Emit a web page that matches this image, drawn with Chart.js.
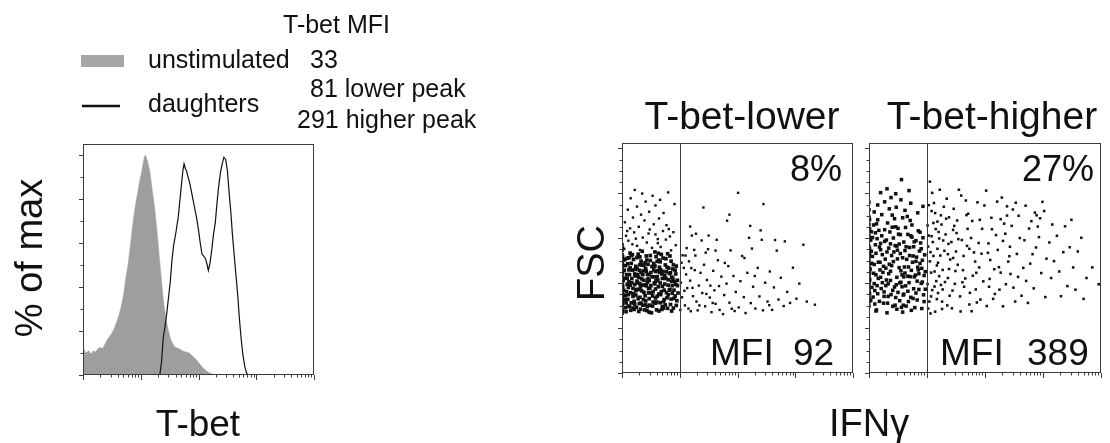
<!DOCTYPE html>
<html>
<head>
<meta charset="utf-8">
<script src="https://cdn.jsdelivr.net/npm/chart.js@4.4.1/dist/chart.umd.min.js"></script>
<style>
  html, body { margin: 0; padding: 0; background: #fff; }
  #page { position: relative; width: 1110px; height: 443px; overflow: hidden; }
  .box { position: absolute; }
  #labels { position: absolute; left: 0; top: 0; pointer-events: none; }
  #labels text { font-family: "Liberation Sans", Arial, Helvetica, sans-serif; fill: #111; }
</style>
</head>
<body>
<div id="page">
  <div class="box" style="left:63px;top:134px;width:271px;height:251px"><canvas id="histChart"></canvas></div>
  <div class="box" style="left:602px;top:133px;width:271px;height:250px"><canvas id="lowerChart"></canvas></div>
  <div class="box" style="left:849px;top:133px;width:272px;height:250px"><canvas id="higherChart"></canvas></div>
  <svg id="labels" width="1110" height="443">
    <rect x="81" y="55" width="43" height="12" fill="#a6a6a6"/>
    <line x1="82" y1="106" x2="120" y2="106" stroke="#111" stroke-width="2.5"/>
    <text x="283" y="33" font-size="25">T-bet MFI</text>
    <text x="148" y="68" font-size="25">unstimulated</text>
    <text x="310" y="68" font-size="25">33</text>
    <text x="310" y="97" font-size="25">81 lower peak</text>
    <text x="148" y="112" font-size="25">daughters</text>
    <text x="297" y="128" font-size="25">291 higher peak</text>
    <text transform="translate(42,258) rotate(-90)" text-anchor="middle" font-size="38">% of max</text>
    <text x="198" y="436" text-anchor="middle" font-size="37">T-bet</text>
    <text x="742" y="129" text-anchor="middle" font-size="39">T-bet-lower</text>
    <text x="992" y="129" text-anchor="middle" font-size="39">T-bet-higher</text>
    <text x="842" y="181" text-anchor="end" font-size="36">8%</text>
    <text x="1094" y="181" text-anchor="end" font-size="36">27%</text>
    <text y="365" font-size="37"><tspan x="710">MFI</tspan><tspan x="793">92</tspan></text>
    <text y="365" font-size="37"><tspan x="940">MFI</tspan><tspan x="1027">389</tspan></text>
    <text transform="translate(604,263) rotate(-90)" text-anchor="middle" font-size="38">FSC</text>
    <text x="829" y="436" font-size="38">IFNγ</text>
  </svg>
</div>
<script>
// --- Histogram: T-bet (log decades) vs % of max ---
const unstimLog = [0, 0.01, 0.05, 0.1, 0.14, 0.18, 0.22, 0.26, 0.3, 0.34,
  0.38, 0.42, 0.46, 0.5, 0.54, 0.58, 0.62, 0.66, 0.7, 0.74,
  0.78, 0.82, 0.86, 0.9, 0.94, 0.98, 1.02, 1.06, 1.08, 1.12,
  1.16, 1.2, 1.24, 1.28, 1.32, 1.36, 1.4, 1.44, 1.48, 1.52,
  1.56, 1.6, 1.66, 1.72, 1.78, 1.84, 1.9, 1.96, 2.02, 2.08,
  2.14, 2.2, 2.28, 2.34, 4];
const unstimPct = [42, 12, 10, 11, 9.5, 11, 10.5, 12, 12.5, 12,
  14, 16, 17.5, 19, 21, 24, 27, 31, 36, 44,
  50, 59, 68, 76, 82, 88, 93, 99, 100, 97,
  92, 84, 76, 66, 54, 43, 32, 25, 20, 16,
  14, 12.5, 12, 11, 10.5, 10, 8.5, 7, 5, 3.2,
  1.8, 0.8, 0.2, 0, 0];
const daughtersLog = [0, 1.33, 1.36, 1.39, 1.42, 1.45, 1.48, 1.51, 1.54, 1.57,
  1.61, 1.65, 1.68, 1.71, 1.73, 1.75, 1.77, 1.79,
  1.82, 1.85, 1.88, 1.91, 1.94, 1.97, 2.0, 2.03, 2.06, 2.09, 2.12, 2.15,
  2.17,
  2.2, 2.23, 2.26, 2.29, 2.32, 2.35, 2.38, 2.41, 2.44, 2.47, 2.5, 2.53,
  2.56, 2.59, 2.62, 2.65, 2.68, 2.71, 2.74, 2.77, 2.8, 2.83, 2.86,
  4];
const daughtersPct = [0, 0, 6, 17, 22, 28, 35, 42, 52, 59,
  65, 72, 80, 88, 93, 96, 94, 93,
  90, 87, 83, 79, 75, 71, 66, 60, 55, 54, 53, 50,
  47.5,
  51, 57, 64, 69, 78, 86, 92, 96, 99, 98, 93, 83,
  74, 63, 54, 45, 36, 25, 16, 9, 4, 1, 0,
  0];

// --- Dot plots: IFNg (log decades) vs FSC, flat [x, y, x, y, ...] ---
const lowerDense = [
  0.42,388, 0.13,296, 0.77,451, 0.31,517, 0.58,334, 0.05,422, 0.89,289, 0.24,367, 0.66,495, 0.47,271,
  0.18,458, 0.83,372, 0.36,302, 0.61,429, 0.09,511, 0.72,318, 0.27,401, 0.94,476, 0.51,356, 0.14,534,
  0.69,283, 0.33,447, 0.86,408, 0.02,347, 0.55,488, 0.21,319, 0.79,531, 0.44,439, 0.11,381, 0.64,276,
  0.38,359, 0.92,343, 0.16,488, 0.74,396, 0.49,523, 0.06,291, 0.59,411, 0.29,274, 0.81,467, 0.41,321,
  0.23,432, 0.67,349, 0.03,503, 0.53,298, 0.88,422, 0.35,481, 0.12,407, 0.71,452, 0.46,376, 0.19,341,
  0.84,305, 0.57,539, 0.26,466, 0.96,389, 0.39,281, 0.08,362, 0.63,384, 0.31,337, 0.76,509, 0.5,447,
  0.15,279, 0.7,421, 0.43,503, 0.87,355, 0.22,394, 0.6,316, 0.04,457, 0.34,419, 0.79,288, 0.54,362,
  0.28,529, 0.93,441, 0.1,328, 0.65,471, 0.48,302, 0.2,506, 0.73,369, 0.37,455, 0.85,498, 0.56,401,
  0.01,389, 0.4,344, 0.68,528, 0.25,292, 0.9,369, 0.17,421, 0.62,455, 0.32,383, 0.78,335, 0.45,484,
  0.07,273, 0.52,428, 0.82,443, 0.3,309, 0.66,313, 0.14,468, 0.95,322, 0.42,521, 0.58,374, 0.24,347,
  0.75,481, 0.09,395, 0.47,331, 0.86,276, 0.33,498, 0.61,497, 0.19,377, 0.72,289, 0.38,413, 0.04,326,
  0.55,459, 0.27,438, 0.91,408, 0.12,513, 0.64,352, 0.44,296, 0.8,391, 0.21,283, 0.69,441, 0.35,542,
  0.06,478, 0.58,311, 0.83,521, 0.29,372, 0.5,389, 0.16,312, 0.74,434, 0.41,465, 0.97,356, 0.26,409,
  0.63,533, 0.11,349, 0.47,412, 0.88,463, 0.32,284, 0.57,476, 0.02,412, 0.77,358, 0.39,392, 0.18,527,
  0.66,401, 0.23,461, 0.85,329, 0.53,343, 0.08,438, 0.43,278, 0.71,512, 0.3,457, 0.93,395, 0.14,391,
  0.6,281, 0.37,327, 0.8,415, 0.2,353, 0.49,501, 0.03,368, 0.68,362, 0.26,514, 0.89,482, 0.45,419,
  0.13,438, 0.56,428, 0.34,366, 0.75,303, 0.1,486, 0.62,414, 0.4,491, 0.84,446, 0.22,306, 0.51,268,
  0.07,312, 0.7,386, 0.36,438, 0.94,301, 0.17,402, 0.59,518, 0.28,331, 0.78,471, 0.46,357, 0.05,506,
  0.65,448, 0.31,398, 0.87,389, 0.24,475, 0.54,316, 0.15,357, 0.73,327, 0.42,453, 0.9,332, 0.01,458,
  0.48,378, 0.19,289, 0.67,459, 0.33,311, 0.82,369, 0.09,421, 0.57,397, 0.38,479, 0.76,421, 0.25,372,
  0.61,342, 0.12,459, 0.44,404, 0.86,427, 0.29,426, 0.52,474, 0.06,344, 0.7,296, 0.35,391, 0.96,413,
  0.22,441, 0.64,503, 0.41,303, 0.8,348, 0.16,523, 0.58,452, 0.31,482, 0.92,458, 0.47,438, 0.11,298,
  0,266, 0,283, 0,301, 0,317, 0,336, 0,352, 0,371, 0,388, 0,404, 0,423, 0,439, 0,456, 0,474, 0,491,
  0,508, 0,526, 0,547, 0,571, 0.01,275, 0.01,309, 0.01,344, 0.01,379, 0.01,414, 0.01,449, 0.01,482,
  0.01,518, 0.01,556
];
const lowerSpread = [
  0.04,552, 0.31,548, 0.67,561, 0.18,573, 0.52,557, 0.85,546, 0.11,589, 0.43,581, 0.76,594, 0.26,566,
  0.62,578, 0.93,569, 0.07,611, 0.36,603, 0.58,617, 0.21,626, 0.83,608, 0.48,639, 0.14,644, 0.71,632,
  0.29,651, 0.89,627, 0.55,662, 0.05,671, 0.39,679, 0.77,658, 0.19,692, 0.64,688, 0.33,705, 0.47,718,
  0.1,727, 0.72,712, 0.26,741, 0.58,746, 0.41,763, 0.15,778, 0.66,771, 0.35,799, 0.8,804, 0.22,815,
  0.53,789, 0.91,752, 0.62,596, 0.24,598, 0.46,621, 0.09,632, 0.81,641,
  1.01,281, 1.04,337, 1.02,402, 1.07,468, 1.05,524, 1.09,301, 1.13,378, 1.11,439, 1.16,497, 1.12,556,
  1.19,275, 1.23,342, 1.18,411, 1.26,458, 1.21,612, 1.29,318, 1.33,389, 1.27,523, 1.36,446, 1.31,279,
  1.41,737, 1.39,356, 1.44,297, 1.42,482, 1.47,414, 1.52,336, 1.49,551, 1.55,271, 1.58,455, 1.53,389,
  1.62,308, 1.66,502, 1.6,368, 1.69,281, 1.72,429, 1.64,593, 1.77,347, 1.75,262, 1.81,398, 1.82,678,
  1.86,313, 1.84,476, 1.9,286, 1.93,432, 1.88,546, 1.97,361, 2.01,802, 2.02,292, 2.05,409, 2.08,521,
  2.11,338, 2.14,267, 2.17,446, 2.2,602, 2.23,311, 2.27,384, 2.25,554, 2.31,287, 2.35,468, 2.38,341,
  2.42,593, 2.45,752, 2.44,279, 2.48,402, 2.52,318, 2.56,452, 2.6,281, 2.63,381, 2.68,545, 2.71,327,
  2.75,424, 2.82,586, 2.8,298, 2.86,361, 2.91,312, 2.96,469, 3.02,331, 3.07,398, 3.14,571, 3.2,318,
  3.34,304, 1.08,366, 1.15,287, 1.22,379, 1.34,301, 1.46,352, 1.57,312, 1.25,548, 1.38,590, 1.18,652,
  1.28,620, 1.03,491, 1.1,523, 1.2,467, 1.45,536, 1.68,387, 1.95,276, 2.12,512, 2.3,432, 2.55,302,
  1.78,490, 1.86,705, 2.22,655, 1.5,612, 2.4,635, 2.65,592, 1.62,545
];
const higherDense = [
  0.37,412, 0.81,356, 0.12,533, 0.64,298, 0.29,467, 0.93,602, 0.05,381, 0.52,574, 0.71,429, 0.18,319,
  0.46,651, 0.88,488, 0.23,402, 0.59,347, 0.34,556, 0.76,521, 0.08,444, 0.97,373, 0.41,297, 0.67,617,
  0.15,682, 0.55,455, 0.83,409, 0.26,361, 0.49,508, 0.72,337, 0.03,592, 0.61,472, 0.36,628, 0.9,553,
  0.19,493, 0.78,584, 0.44,383, 0.1,307, 0.58,691, 0.31,539, 0.86,442, 0.67,364, 0.22,611, 0.48,426,
  0.95,318, 0.06,519, 0.39,478, 0.74,659, 0.14,389, 0.53,322, 0.27,586, 0.81,497, 0.62,545, 0.33,341,
  0.02,463, 0.69,402, 0.45,567, 0.17,635, 0.91,466, 0.57,384, 0.24,448, 0.79,291, 0.4,703, 0.11,571,
  0.65,506, 0.3,414, 0.85,633, 0.5,359, 0.2,549, 0.73,457, 0.07,338, 0.42,601, 0.96,526, 0.6,428,
  0.35,484, 0.13,664, 0.77,375, 0.54,532, 0.25,311, 0.89,579, 0.47,393, 0.04,629, 0.7,559, 0.38,349,
  0.16,421, 0.63,648, 0.92,405, 0.28,507, 0.56,292, 0.84,471, 0.09,483, 0.43,539, 0.68,318, 0.21,376,
  0.51,618, 0.8,436, 0.32,668, 0.01,412, 0.6,583, 0.94,348, 0.37,453, 0.14,598, 0.75,493, 0.46,336,
  0.23,527, 0.66,697, 0.87,543, 0.1,367, 0.55,404, 0.3,592, 0.83,325, 0.19,459, 0.48,565, 0.72,611,
  0.04,542, 0.41,368, 0.62,445, 0.27,638, 0.9,399, 0.58,513, 0.13,281, 0.35,731, 0.78,428, 0.52,469,
  0.08,659, 0.45,302, 0.7,523, 0.2,577, 0.97,451, 0.33,397, 0.64,562, 0.16,493, 0.86,372, 0.5,644,
  0.26,341, 0.74,605, 0.03,324, 0.57,437, 0.39,523, 0.92,502, 0.12,437, 0.68,472, 0.44,687, 0.81,589,
  0.22,705, 0.6,351, 0.34,442, 0.06,603, 0.76,332, 0.49,547, 0.29,389, 0.88,627, 0.15,353, 0.63,388,
  0.42,496, 0.71,679, 0.18,561, 0.54,616, 0.95,434, 0.09,398, 0.37,575, 0.82,516, 0.25,475, 0.59,302,
  0.47,738, 0.67,431, 0.11,624, 0.32,311, 0.85,459, 0.05,488, 0.53,401, 0.77,562, 0.2,426, 0.4,649,
  0.15,748, 0.55,771, 0.27,762, 0.72,756, 0.09,717, 0.62,724, 0.38,781, 0.84,713, 0.46,798, 0.31,820,
  0.69,812, 0.56,861, 0.93,742, 0.2,803, 0.12,276, 0.48,284, 0.73,279, 0.31,268, 0.91,287, 0.58,271,
  0,298, 0,326, 0,341, 0,367, 0,392, 0,405, 0,433, 0,458, 0,471, 0,499, 0,517, 0,538, 0,563, 0,589,
  0,611, 0,637, 0,662, 0,694, 0,727, 0,760, 0.01,318, 0.01,355, 0.01,418, 0.01,447, 0.01,486,
  0.01,527, 0.01,552, 0.01,598, 0.01,643, 0.01,683
];
const higherSpread = [
  1.02,287, 1.07,341, 1.01,396, 1.13,452, 1.05,497, 1.18,553, 1.03,612, 1.11,668, 1.08,721, 1.09,802,
  1.05,852, 1.14,273, 1.26,318, 1.09,369, 1.21,431, 1.17,479, 1.06,538, 1.28,590, 1.15,641, 1.24,702,
  1.12,757, 1.35,301, 1.19,356, 1.31,405, 1.38,463, 1.23,523, 1.37,575, 1.2,628, 1.33,687, 1.22,816,
  1.29,740, 1.04,318, 1.16,409, 1.27,372, 1.1,583, 1.36,529, 1.25,661, 1.07,447, 1.32,617, 1.19,491,
  1.01,657, 1.14,712, 1.39,344, 1.06,265, 1.27,459, 1.21,599, 1.34,776, 1.11,521, 1.03,747, 1.24,392,
  1.17,329, 1.38,693, 1.08,609, 1.3,544, 1.13,385, 1.36,423, 1.02,563, 1.26,285, 1.18,674, 1.4,505,
  1.43,288, 1.57,341, 1.48,397, 1.62,458, 1.45,512, 1.69,566, 1.51,623, 1.78,677, 1.46,731, 1.59,790,
  1.73,305, 1.44,367, 1.66,421, 1.53,482, 1.81,537, 1.6,592, 1.47,655, 1.71,709, 1.87,760, 1.55,816,
  1.92,327, 1.64,384, 1.85,446, 1.5,541, 1.76,601, 1.95,642, 1.68,703, 1.83,496, 1.58,274, 1.97,408,
  1.49,454, 1.74,357, 1.89,579, 1.63,521, 1.79,433, 1.54,596, 1.91,682, 1.7,642, 1.86,314, 1.42,583,
  1.67,768, 1.94,531, 1.77,275, 1.52,679, 1.99,746, 1.61,404, 1.84,372, 1.73,553, 1.45,637, 1.9,470,
  2.03,298, 2.17,352, 2.08,419, 2.24,471, 2.05,535, 2.31,588, 2.12,640, 2.38,701, 2.02,812, 2.21,763,
  2.14,330, 2.36,395, 2.27,447, 2.09,503, 2.43,562, 2.19,614, 2.33,665, 2.48,728, 2.11,691, 2.29,781,
  2.52,318, 2.25,371, 2.57,428, 2.4,496, 2.06,577, 2.55,530, 2.35,620, 2.46,655, 2.58,700, 2.22,548,
  2.49,380, 2.31,297, 2.44,441, 2.16,462, 2.6,601, 2.38,742, 2.07,384, 2.53,758, 2.27,685, 2.42,520,
  2.63,344, 2.71,410, 2.66,468, 2.82,529, 2.68,591, 2.76,643, 2.89,702, 2.8,676, 2.86,714, 2.95,689,
  2.91,652, 3.02,721, 2.84,377, 2.97,445, 3.06,509, 2.74,312, 3.11,581, 2.93,605, 3.16,661, 2.7,745,
  3.04,338, 3.14,423, 2.88,559, 3.19,498, 2.99,762, 2.78,487,
  3.24,611, 3.28,452, 3.35,538, 3.42,387, 3.46,560, 3.38,653, 3.52,470, 3.6,541, 3.66,602, 3.75,423,
  3.96,395, 3.7,330, 3.85,470, 3.31,342, 3.56,371, 3.49,682
];

// --- Axis ticks ---
const decades = [0, 1, 2, 3, 4];
const minorMultipliers = [2, 3, 4, 5, 6, 7, 8, 9];
const pctTicks = [0, 10, 20, 30, 40, 50, 60, 70, 80, 90, 100];
const fscTicks = [0, 50, 100, 150, 200, 250, 300, 350, 400, 450, 500,
  550, 600, 650, 700, 750, 800, 850, 900, 950, 1000];
const ifnGate = 1;

const logTicks = [];
decades.forEach((d) => {
  logTicks.push({ v: d, major: true });
  if (d < decades[decades.length - 1]) {
    minorMultipliers.forEach((m) => logTicks.push({ v: d + Math.log10(m), major: false }));
  }
});

function toPoints(flat) {
  const pts = [];
  for (let i = 0; i < flat.length; i += 2) pts.push({ x: flat[i], y: flat[i + 1] });
  return pts;
}

// --- Frame plugin: box, gate and outward tick marks ---
const framePlugin = {
  id: "frame",
  afterDatasetsDraw(chart, args, opts) {
    const { ctx, chartArea: a } = chart;
    const xs = chart.scales.x;
    const ys = chart.scales.y;
    ctx.save();
    ctx.strokeStyle = "#3c3c3c";
    ctx.lineWidth = 1;
    ctx.strokeRect(a.left + 0.5, a.top + 0.5, a.right - a.left - 1, a.bottom - a.top - 1);
    if (opts.gate != null) {
      const gx = Math.round(xs.getPixelForValue(opts.gate)) + 0.5;
      ctx.beginPath();
      ctx.moveTo(gx, a.top);
      ctx.lineTo(gx, a.bottom);
      ctx.stroke();
    }
    ctx.beginPath();
    opts.xTicks.forEach((t) => {
      const px = Math.round(xs.getPixelForValue(t.v)) + 0.5;
      ctx.moveTo(px, a.bottom);
      ctx.lineTo(px, a.bottom + (t.major ? 5 : 2.5));
    });
    opts.yTicks.forEach((v) => {
      const py = Math.round(ys.getPixelForValue(v)) + 0.5;
      const major = v % opts.yMajor === 0;
      ctx.moveTo(a.left, py);
      ctx.lineTo(a.left - (major ? 4 : 2.5), py);
    });
    ctx.stroke();
    ctx.restore();
  },
};

const basePadding = { left: 20, right: 20, top: 10, bottom: 10 };

// --- Histogram ---
new Chart(document.getElementById("histChart"), {
  type: "scatter",
  data: {
    datasets: [
      {
        label: "daughters",
        data: daughtersLog.map((x, i) => ({ x, y: daughtersPct[i] })),
        showLine: true,
        borderColor: "#111",
        borderWidth: 1.2,
        pointRadius: 0,
        fill: false,
      },
      {
        label: "unstimulated",
        data: unstimLog.map((x, i) => ({ x, y: unstimPct[i] })),
        showLine: true,
        borderColor: "#9e9e9e",
        borderWidth: 0.5,
        backgroundColor: "#9e9e9e",
        pointRadius: 0,
        fill: "origin",
      },
    ],
  },
  options: {
    responsive: true,
    maintainAspectRatio: false,
    devicePixelRatio: 1,
    animation: false,
    layout: { padding: basePadding },
    plugins: {
      legend: { display: false },
      tooltip: { enabled: false },
      frame: { xTicks: logTicks, yTicks: pctTicks, yMajor: 20, gate: null },
    },
    scales: {
      x: { type: "linear", min: 0, max: 4, display: false },
      y: { type: "linear", min: 0, max: 105, display: false },
    },
  },
  plugins: [framePlugin],
});

// --- Dot plots ---
function dotPlot(id, dense, spread, denseRadius, spreadRadius) {
  return new Chart(document.getElementById(id), {
    type: "scatter",
    data: {
      datasets: [
        {
          data: toPoints(dense),
          pointStyle: "rect",
          pointRadius: denseRadius,
          pointBorderWidth: 0,
          backgroundColor: "#111",
        },
        {
          data: toPoints(spread),
          pointStyle: "rect",
          pointRadius: spreadRadius,
          pointBorderWidth: 0,
          backgroundColor: "#111",
        },
      ],
    },
    options: {
      responsive: true,
      maintainAspectRatio: false,
      devicePixelRatio: 1,
      animation: false,
      layout: { padding: basePadding },
      plugins: {
        legend: { display: false },
        tooltip: { enabled: false },
        frame: { xTicks: logTicks, yTicks: fscTicks, yMajor: 200, gate: ifnGate },
      },
      scales: {
        x: { type: "linear", min: 0, max: 4, display: false },
        y: { type: "linear", min: 0, max: 1024, display: false },
      },
    },
    plugins: [framePlugin],
  });
}

dotPlot("lowerChart", lowerDense, lowerSpread, 2.6, 1.7);
dotPlot("higherChart", higherDense, higherSpread, 2.5, 1.8);
</script>
</body>
</html>
